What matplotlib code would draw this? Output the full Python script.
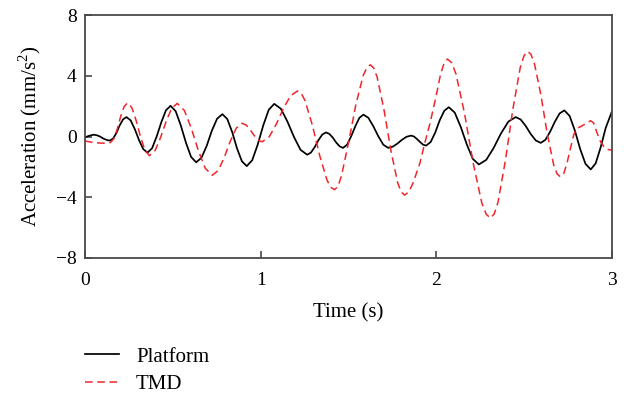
"""
Platform vs TMD acceleration response over the first 3 s.
Values read off the reference figure (peaks, troughs and points between).
"""
import matplotlib
matplotlib.use('Agg')
import matplotlib.pyplot as plt

# platform acceleration (mm/s^2)
platform_t = [
    0.000, 0.025, 0.050, 0.068, 0.087, 0.105, 0.124, 0.142,
    0.161, 0.180, 0.198, 0.217, 0.236,
    0.260, 0.284, 0.308, 0.332, 0.356,
    0.382, 0.408, 0.435, 0.461, 0.487,
    0.516, 0.545, 0.575, 0.604, 0.633,
    0.663, 0.693, 0.722, 0.752, 0.782,
    0.810, 0.838, 0.865, 0.893, 0.921,
    0.952, 0.983, 1.015, 1.046, 1.077,
    1.115, 1.152, 1.190, 1.227, 1.265,
    1.286, 1.308, 1.329, 1.351, 1.372,
    1.391, 1.411, 1.430, 1.450, 1.469,
    1.492, 1.515, 1.539, 1.562, 1.585,
    1.613, 1.641, 1.670, 1.698, 1.726,
    1.752, 1.778, 1.804, 1.830, 1.856,
    1.873, 1.890, 1.908, 1.925, 1.942,
    1.968, 1.994, 2.019, 2.045, 2.071,
    2.105, 2.139, 2.174, 2.208, 2.242,
    2.284, 2.326, 2.368, 2.410, 2.452,
    2.480, 2.509, 2.537, 2.566, 2.594,
    2.621, 2.648, 2.675, 2.702, 2.729,
    2.759, 2.789, 2.819, 2.849, 2.879,
    2.907, 2.935, 2.964, 3.000,
]
platform_a = [
    -0.05, 0.05, 0.12, 0.08, -0.01, -0.14, -0.23, -0.27,
    -0.12, 0.26, 0.75, 1.13, 1.28,
    1.06, 0.47, -0.25, -0.84, -1.06,
    -0.77, 0.00, 0.96, 1.73, 2.02,
    1.67, 0.74, -0.42, -1.35, -1.70,
    -1.40, -0.61, 0.38, 1.17, 1.47,
    1.15, 0.29, -0.77, -1.63, -1.95,
    -1.56, -0.54, 0.74, 1.76, 2.15,
    1.83, 0.99, -0.04, -0.88, -1.20,
    -1.06, -0.69, -0.24, 0.13, 0.27,
    0.17, -0.08, -0.40, -0.65, -0.75,
    -0.54, 0.01, 0.68, 1.23, 1.44,
    1.23, 0.68, 0.01, -0.54, -0.75,
    -0.67, -0.47, -0.22, -0.02, 0.06,
    0.00, -0.17, -0.37, -0.54, -0.60,
    -0.36, 0.27, 1.06, 1.69, 1.93,
    1.57, 0.63, -0.54, -1.48, -1.84,
    -1.54, -0.76, 0.20, 0.98, 1.28,
    1.12, 0.69, 0.17, -0.26, -0.42,
    -0.22, 0.32, 0.98, 1.52, 1.72,
    1.35, 0.38, -0.83, -1.80, -2.17,
    -1.77, -0.73, 0.56, 1.66,
]

# TMD acceleration (mm/s^2)
tmd_t = [
    0.000, 0.040, 0.080, 0.110, 0.145, 0.164, 0.184, 0.203, 0.223, 0.242,
    0.267, 0.292, 0.317, 0.342, 0.367, 0.399, 0.430, 0.462, 0.493, 0.525,
    0.565, 0.605, 0.645, 0.685, 0.725, 0.759, 0.793, 0.827, 0.861, 0.895,
    0.918, 0.940, 0.963, 0.985, 1.008, 1.048, 1.089, 1.129, 1.170, 1.210,
    1.231, 1.252, 1.294, 1.336, 1.378, 1.399, 1.420, 1.440, 1.461, 1.502,
    1.542, 1.583, 1.604, 1.624, 1.644, 1.663, 1.702, 1.741, 1.780, 1.800,
    1.819, 1.843, 1.868, 1.907, 1.935, 1.964, 1.998, 2.024, 2.045, 2.063,
    2.088, 2.112, 2.161, 2.210, 2.259, 2.284, 2.308, 2.329, 2.351, 2.393,
    2.436, 2.478, 2.500, 2.521, 2.539, 2.558, 2.595, 2.631, 2.668, 2.687,
    2.705, 2.725, 2.745, 2.765, 2.782, 2.795, 2.812, 2.845, 2.878, 2.895,
    2.916, 2.935, 2.954, 2.975, 3.000,
]
tmd_a = [
    -0.30, -0.38, -0.43, -0.44, -0.40, -0.15, 0.50, 1.32, 1.97, 2.22,
    1.89, 1.02, -0.06, -0.93, -1.26, -0.93, -0.07, 0.99, 1.85, 2.18,
    1.73, 0.55, -0.92, -2.10, -2.55, -2.23, -1.37, -0.31, 0.55, 0.87,
    0.75, 0.45, 0.07, -0.23, -0.35, -0.03, 0.81, 1.84, 2.68, 3.00,
    2.84, 2.38, 0.76, -1.26, -2.88, -3.34, -3.50, -3.30, -2.55, -0.30,
    2.10, 4.00, 4.52, 4.72, 4.51, 3.91, 1.76, -0.90, -3.05, -3.65,
    -3.86, -3.65, -3.05, -1.73, -0.40, 0.87, 2.62, 4.10, 4.85, 5.10,
    4.85, 4.11, 1.49, -1.76, -4.38, -5.12, -5.37, -5.11, -4.33, -1.59,
    1.82, 4.56, 5.34, 5.60, 5.40, 4.82, 2.75, 0.20, -1.87, -2.45,
    -2.65, -2.45, -1.70, -0.70, 0.10, 0.47, 0.60, 0.80, 1.04, 0.90,
    0.20, -0.35, -0.67, -0.85, -0.90,
]

x_ticks = [0, 1, 2, 3]
y_ticks = [-8, -4, 0, 4, 8]
labels = ['Platform', 'TMD']

SPINE = '#4a4a4a'
RED = '#f0262b'

plt.rcParams['font.family'] = ['Liberation Serif', 'DejaVu Serif']
plt.rcParams['mathtext.fontset'] = 'custom'
plt.rcParams['mathtext.rm'] = 'Liberation Serif'
plt.rcParams['font.size'] = 14

fig = plt.figure(figsize=(6.35, 3.96), dpi=100)
ax = fig.add_axes([85 / 635, 1 - 258 / 396, 527 / 635, 243 / 396])

l1, = ax.plot(platform_t, platform_a, color='black', lw=1.25)
l2, = ax.plot(tmd_t, tmd_a, color=RED, lw=1.1, dashes=[5, 3])

ax.set_xlim(0, 3)
ax.set_ylim(-8, 8)
ax.set_xticks(x_ticks)
ax.set_yticks(y_ticks)
ax.tick_params(direction='in', length=5, width=1.2, color=SPINE,
               labelsize=14)
ax.tick_params(axis='x', pad=10)
ax.tick_params(axis='y', pad=6)
for spine in ax.spines.values():
    spine.set_color(SPINE)
    spine.set_linewidth(1.3)

ax.set_xlabel('Time (s)', fontsize=15, labelpad=10)
ax.set_ylabel('Acceleration (mm/s$^2$)', fontsize=15, labelpad=9)

fig.legend([l1, l2], labels, loc='upper left', fontsize=15,
           bbox_to_anchor=(85 / 635, 1 - 347 / 396), frameon=False,
           borderpad=0, borderaxespad=0, handlelength=1.65,
           handletextpad=0.8, labelspacing=0.38)

fig.savefig('out.png', dpi=100)
